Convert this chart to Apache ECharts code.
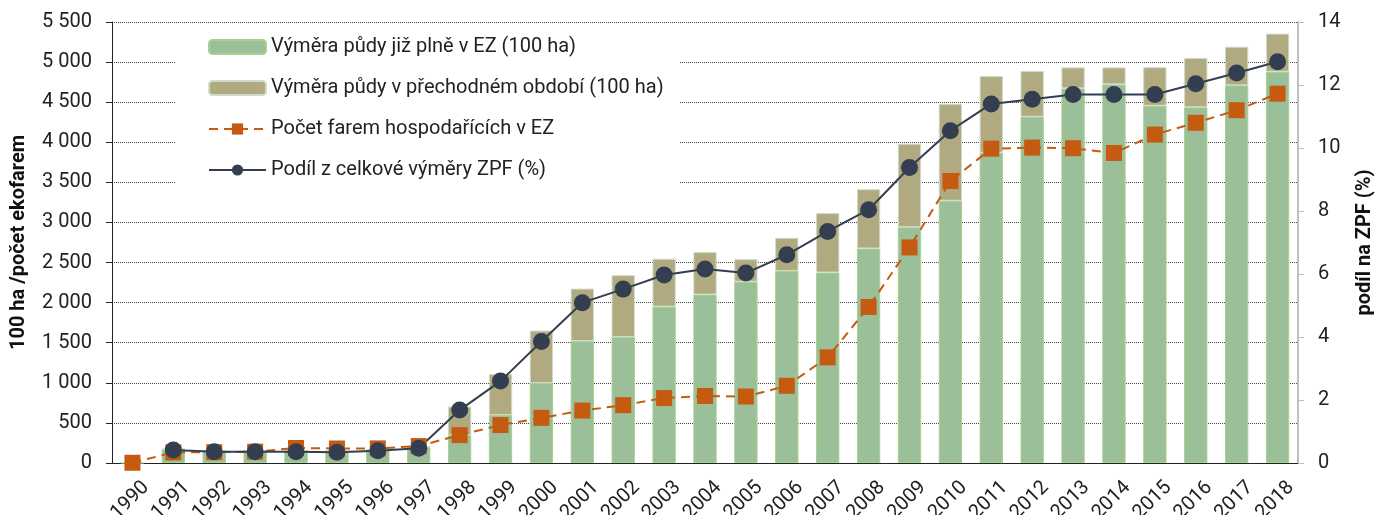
<!DOCTYPE html>
<html>
<head>
<meta charset="utf-8">
<script src="https://cdn.jsdelivr.net/npm/echarts@6/dist/echarts.min.js"></script>
<style>
  html, body { margin: 0; padding: 0; background: #fff; }
  #chart { width: 1380px; height: 515px; }
</style>
</head>
<body>
<div id="chart"></div>
<script>
var years = ['1990', '1991', '1992', '1993', '1994', '1995', '1996', '1997', '1998', '1999',
    '2000', '2001', '2002', '2003', '2004', '2005', '2006', '2007', '2008', '2009',
    '2010', '2011', '2012', '2013', '2014', '2015', '2016', '2017', '2018'];

// vymera plne v EZ (100 ha)
var fullArea = [5, 175, 150, 152, 158, 148, 165, 200, 349, 598,
    995, 1520, 1570, 1950, 2100, 2260, 2395, 2375, 2675, 2940,
    3270, 3870, 4318, 4672, 4722, 4456, 4436, 4710, 4880];

// vymera v prechodnem obdobi (100 ha)
var transArea = [0, 0, 0, 0, 0, 0, 0, 5, 355, 510,
    657, 655, 772, 598, 530, 282, 414, 742, 740, 1043,
    1210, 956, 570, 262, 212, 480, 616, 482, 475];

// pocet farem
var farms = [3, 132, 135, 141, 187, 181, 182, 211, 348, 473,
    563, 654, 721, 810, 836, 829, 963, 1318, 1946, 2689,
    3517, 3920, 3934, 3926, 3866, 4096, 4243, 4399, 4606];

// podil z vymery ZPF (%)
var share = [null, 0.41, 0.36, 0.36, 0.36, 0.34, 0.39, 0.47, 1.68, 2.6,
    3.86, 5.09, 5.52, 5.97, 6.16, 6.03, 6.61, 7.35, 8.04, 9.38,
    10.55, 11.4, 11.55, 11.7, 11.7, 11.7, 12.04, 12.38, 12.74];

var names = [
    'Výměra půdy již plně v EZ (100 ha)',
    'Výměra půdy v přechodném období (100 ha)',
    'Počet farem hospodařících v EZ',
    'Podíl z celkové výměry ZPF (%)'
];

var font = 'Roboto, "DejaVu Sans", sans-serif';
var chart = echarts.init(document.getElementById('chart'));

chart.setOption({
    animation: false,
    textStyle: { fontFamily: font },
    grid: { left: 112, right: 82, top: 22, bottom: 52, outerBoundsMode: 'none', containLabel: false },
    legend: {
        data: names,
        orient: 'vertical',
        left: 176,
        top: 28,
        padding: [9, 16, 12, 32],
        backgroundColor: '#fff',
        itemWidth: 57,
        itemHeight: 14,
        itemGap: 21,
        textStyle: { fontSize: 20, color: '#222', fontFamily: font }
    },
    xAxis: {
        type: 'category',
        data: years,
        axisLine: { lineStyle: { color: '#222', width: 1 } },
        axisTick: { length: 6, lineStyle: { color: '#222' } },
        axisLabel: {
            rotate: 45, interval: 0, fontSize: 20, color: '#222', margin: 8,
            verticalAlign: 'top', lineHeight: 38
        }
    },
    yAxis: [{
        type: 'value',
        min: 0,
        max: 5500,
        interval: 500,
        name: '100 ha /počet ekofarem',
        nameLocation: 'middle',
        nameGap: 83,
        nameTextStyle: { fontSize: 20, fontWeight: 'bold', color: '#111' },
        axisLine: { show: true, lineStyle: { color: '#222' } },
        axisTick: { show: true, length: 6, lineStyle: { color: '#222' } },
        axisLabel: {
            fontSize: 20, color: '#222', margin: 20,
            formatter: function (v) {
                return String(v).replace(/\B(?=(\d{3})+(?!\d))/g, ' ');
            }
        },
        splitLine: { lineStyle: { color: '#444', type: [1, 1], width: 1 } }
    }, {
        type: 'value',
        min: 0,
        max: 14,
        interval: 2,
        name: 'podíl na ZPF (%)',
        nameLocation: 'middle',
        nameGap: 57,
        nameTextStyle: { fontSize: 20, fontWeight: 'bold', color: '#111' },
        axisLine: { show: true, lineStyle: { color: '#bfbfbf', width: 2 } },
        axisTick: { show: true, length: 6, lineStyle: { color: '#bfbfbf' } },
        axisLabel: { fontSize: 20, color: '#222', margin: 20 },
        splitLine: { show: false }
    }],
    series: [{
        name: names[0],
        type: 'bar',
        stack: 'area',
        barWidth: '57%',
        itemStyle: { color: '#9bbf99', borderColor: '#a9d08e', borderWidth: 1 },
        data: fullArea
    }, {
        name: names[1],
        type: 'bar',
        stack: 'area',
        itemStyle: { color: '#b1aa80', borderColor: '#cfdccb', borderWidth: 1 },
        data: transArea
    }, {
        name: names[2],
        type: 'line',
        yAxisIndex: 0,
        symbol: 'rect',
        symbolSize: 16,
        color: '#c55a11',
        itemStyle: { color: '#c55a11' },
        lineStyle: { color: '#c55a11', width: 2, type: [9, 6] },
        data: farms
    }, {
        name: names[3],
        type: 'line',
        yAxisIndex: 1,
        symbol: 'circle',
        symbolSize: 17,
        color: '#333f50',
        itemStyle: { color: '#333f50' },
        lineStyle: { color: '#333f50', width: 2 },
        data: share
    }]
});
</script>
</body>
</html>
